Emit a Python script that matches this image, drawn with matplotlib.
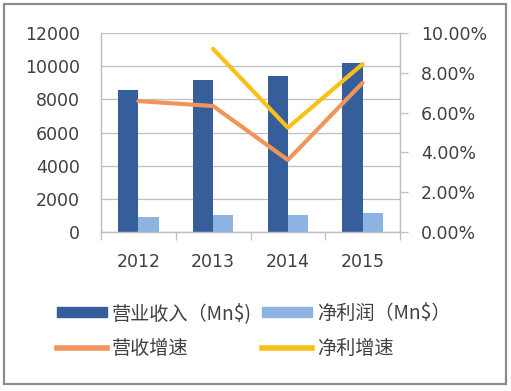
import matplotlib
matplotlib.use("Agg")
import matplotlib.pyplot as plt
import numpy as np
from matplotlib.patches import Rectangle
from matplotlib.lines import Line2D

plt.rcParams['font.family'] = ['DejaVu Sans', 'Noto Sans CJK SC']

# data
years = ["2012", "2013", "2014", "2015"]
revenue = [8545, 9150, 9430, 10190]          # 营业收入 (Mn$)
net_profit = [886, 1043, 1025, 1127]         # 净利润 (Mn$)
revenue_growth = [6.58, 6.33, 3.62, 7.50]    # 营收增速 (%)
profit_growth = [np.nan, 9.20, 5.24, 8.44]   # 净利增速 (%)

dark_blue = "#355E9B"
light_blue = "#8DB3E2"
orange = "#F0955A"
yellow = "#F8C11A"
text_col = "#404040"
grid_col = "#BFBFBF"

fig = plt.figure(figsize=(5.11, 3.91), dpi=100)
ax = fig.add_axes([101/511, 159/391, 299/511, 199/391])
ax2 = ax.twinx()

x = np.arange(len(years))
w = 0.27
ax.bar(x - w/2, revenue, w, color=dark_blue, zorder=2)
ax.bar(x + w/2, net_profit, w, color=light_blue, zorder=2)

ax.set_xlim(-0.5, 3.5)
ax.set_ylim(0, 12000)
ax.set_yticks(np.arange(0, 12001, 2000))
ax.yaxis.grid(True, color=grid_col, lw=0.9, zorder=0)
ax.set_axisbelow(True)
ax.set_xticks(x)
ax.set_xticklabels(years)
ax.set_xticks(np.arange(-0.5, 3.6, 1), minor=True)
ax.tick_params(axis='x', which='major', length=0, pad=15, labelsize=12.5, labelcolor=text_col)
ax.tick_params(axis='x', which='minor', length=6, color=grid_col, width=0.9)
ax.tick_params(axis='y', length=0, pad=15, labelsize=12.5, labelcolor=text_col)

ax2.plot(x, revenue_growth, color=orange, lw=3, solid_capstyle='round', zorder=3)
ax2.plot(x, profit_growth, color=yellow, lw=3, solid_capstyle='round', zorder=3)
ax2.set_ylim(0, 10)
ax2.set_yticks(np.arange(0, 10.01, 2))
ax2.set_yticklabels([f"{v:.2f}%" for v in np.arange(0, 10.01, 2)])
ax2.tick_params(axis='y', length=6, width=0.9, color=grid_col, pad=9, labelsize=12.5, labelcolor=text_col)

for a in (ax, ax2):
    for s in a.spines.values():
        s.set_color(grid_col)
        s.set_linewidth(0.9)
    a.spines['top'].set_visible(False)

handles = [
    Rectangle((0, 0), 1, 1, color=dark_blue),
    Line2D([], [], color=orange, lw=4),
    Rectangle((0, 0), 1, 1, color=light_blue),
    Line2D([], [], color=yellow, lw=4),
]
labels = ["营业收入（Mn$)", "营收增速", "净利润（Mn$）", "净利增速"]
fig.legend(handles, labels, ncol=2, loc='center left',
           bbox_to_anchor=(40/511, 1 - 331/391), frameon=False,
           prop={'family': ['Noto Sans CJK SC', 'DejaVu Sans'], 'size': 13.8},
           labelcolor=text_col, handlelength=2.6, handleheight=0.5,
           handletextpad=0.25, columnspacing=0.55, labelspacing=0.75)

fig.patches.append(Rectangle((4/511, 7/391), 502/511, 380/391, transform=fig.transFigure,
                             fill=False, edgecolor="#8C8C8C", lw=1.6))

fig.savefig("out.png", dpi=100, facecolor="white")
